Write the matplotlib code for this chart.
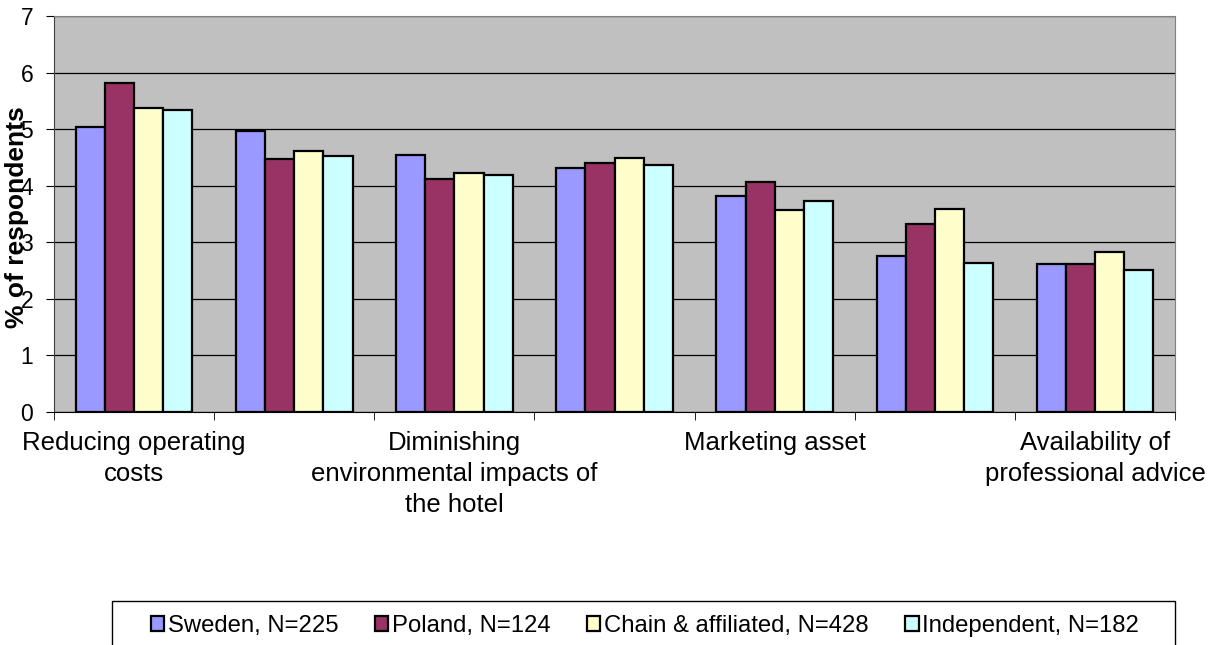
import numpy as np
import matplotlib.pyplot as plt
from matplotlib.patches import Rectangle

# Values (% of respondents)
categories = ["Reducing operating\ncosts", "",
              "Diminishing\nenvironmental impacts of\nthe hotel", "",
              "Marketing asset", "",
              "Availability of\nprofessional advice"]
sweden = [5.04, 4.96, 4.55, 4.32, 3.81, 2.75, 2.62]
poland = [5.82, 4.48, 4.12, 4.41, 4.07, 3.32, 2.62]
chain = [5.38, 4.61, 4.23, 4.49, 3.57, 3.58, 2.82]
independent = [5.34, 4.53, 4.19, 4.36, 3.73, 2.63, 2.51]
series_names = ["Sweden, N=225", "Poland, N=124",
                "Chain & affiliated, N=428", "Independent, N=182"]
colors = ["#9999FF", "#993366", "#FFFFCC", "#CCFFFF"]

plt.rcParams["font.family"] = ["Liberation Sans", "DejaVu Sans"]

fig = plt.figure(figsize=(12.16, 6.45), dpi=100)
ax = fig.add_axes([0.0444, 0.3612, 0.922, 0.614])
ax.set_facecolor("#C0C0C0")

x = np.arange(len(categories))
width = 0.182
for i, (vals, name, col) in enumerate(zip([sweden, poland, chain, independent],
                                          series_names, colors)):
    ax.bar(x + (i - 1.5) * width, vals, width, color=col, edgecolor="black",
           linewidth=1.6, label=name, zorder=3)

ax.set_xlim(-0.5, len(categories) - 0.5)
ax.set_ylim(0, 7)
ax.set_yticks(range(8))
ax.yaxis.grid(True, color="black", linewidth=0.9, zorder=1)
ax.tick_params(axis="y", labelsize=16.5, length=6, pad=9, direction="out")

# category labels at centres, tick marks at the boundaries
ax.set_xticks(x)
ax.set_xticklabels(categories, fontsize=18.5, linespacing=1.35)
ax.tick_params(axis="x", which="major", length=0, pad=14)
ax.set_xticks(np.arange(len(categories) + 1) - 0.5, minor=True)
ax.tick_params(axis="x", which="minor", length=6, direction="out")

for side in ["top", "right"]:
    ax.spines[side].set_color("#808080")
ax.spines["left"].set_color("#404040")

fig.text(0.014, 1 - 217 / 645, "% of respondents", rotation=90, fontsize=19,
         fontweight="bold", ha="center", va="center")

# legend box runs off the bottom of the picture
fig.patches.append(Rectangle((112 / 1216, -0.05), 1063 / 1216, 44 / 645 + 0.05,
                             transform=fig.transFigure, fill=False,
                             edgecolor="black", linewidth=1.0))
ax.legend(loc="upper left", bbox_to_anchor=(151 / 1216, 1 - 615 / 645, 988 / 1216, 0.0),
          bbox_transform=fig.transFigure, ncol=4, mode="expand", fontsize=17.2,
          frameon=False, handlelength=0.55, handleheight=0.55,
          handletextpad=0.15, borderpad=0, borderaxespad=0)

fig.savefig("out.png", dpi=100)
